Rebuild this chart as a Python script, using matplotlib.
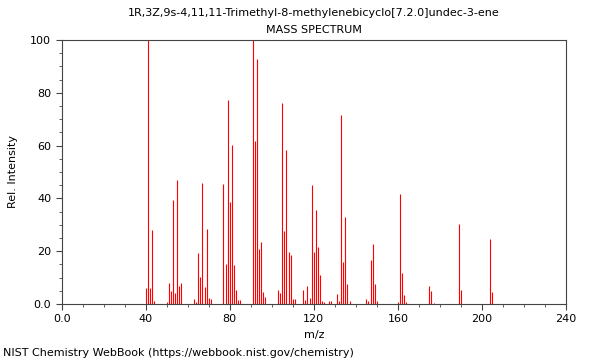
import matplotlib
matplotlib.use("Agg")
import matplotlib.pyplot as plt
from matplotlib.ticker import MultipleLocator, FuncFormatter

mz = [40, 41, 42, 43, 44,
      50, 51, 52, 53, 54, 55, 56, 57,
      63, 64, 65, 66, 67, 68, 69, 70, 71,
      77, 78, 79, 80, 81, 82, 83, 84, 85,
      91, 92, 93, 94, 95, 96, 97,
      103, 104, 105, 106, 107, 108, 109, 110, 111,
      115, 116, 117, 118, 119, 120, 121, 122, 123, 124, 125,
      127, 128, 131, 132, 133, 134, 135, 136, 137,
      145, 146, 147, 148, 149, 150,
      160, 161, 162, 163, 164,
      175, 176, 177,
      189, 190,
      204, 205]
intensity = [6.2, 100, 6.0, 28.0, 1.0,
             0.8, 7.8, 5.0, 39.4, 4.3, 46.8, 6.8, 7.8,
             1.8, 0.6, 19.2, 10.1, 45.7, 6.4, 28.3, 2.4, 1.8,
             45.3, 15.2, 77.3, 38.5, 60.1, 14.8, 5.3, 1.5, 1.5,
             100, 61.9, 92.9, 21.0, 23.5, 4.5, 2.6,
             5.2, 4.2, 76.3, 27.8, 58.3, 19.7, 18.4, 1.8, 1.8,
             5.3, 1.4, 6.9, 2.3, 45.1, 19.7, 35.6, 21.7, 11.0, 1.3, 0.8,
             1.3, 1.3, 3.9, 1.0, 71.6, 15.8, 32.8, 7.7, 1.3,
             2.0, 1.0, 16.5, 22.7, 7.7, 1.3,
             0.8, 41.5, 11.6, 3.4, 0.8,
             6.8, 4.8, 0.4,
             30.3, 5.2,
             24.5, 4.4]

title1 = "1R,3Z,9s-4,11,11-Trimethyl-8-methylenebicyclo[7.2.0]undec-3-ene"
title2 = "MASS SPECTRUM"
xlabel = "m/z"
ylabel = "Rel. Intensity"
footer = "NIST Chemistry WebBook (https://webbook.nist.gov/chemistry)"

plt.rcParams['font.family'] = ['DejaVu Sans']
fig = plt.figure(figsize=(6, 3.6), dpi=100)
ax = fig.add_axes([0.1027, 0.1556, 0.8406, 0.7333])

ax.vlines(mz, 0, intensity, colors='#ff0000', linewidth=0.8)

ax.set_xlim(0, 240)
ax.set_ylim(0, 100)
ax.xaxis.set_major_locator(MultipleLocator(40))
ax.xaxis.set_minor_locator(MultipleLocator(10))
ax.yaxis.set_major_locator(MultipleLocator(20))
ax.yaxis.set_minor_locator(MultipleLocator(5))
fmt = FuncFormatter(lambda v, p: "0.0" if v == 0 else f"{int(v)}")
ax.xaxis.set_major_formatter(fmt)
ax.yaxis.set_major_formatter(fmt)

for s in ax.spines.values():
    s.set_color('#444444')
    s.set_linewidth(0.8)
ax.tick_params(which='both', direction='out', colors='#444444', labelcolor='black', labelsize=8)
ax.tick_params(which='major', length=4)
ax.tick_params(which='minor', length=2.5)

ax.set_xlabel(xlabel, fontsize=8, labelpad=4)
ax.set_ylabel(ylabel, fontsize=8, labelpad=9)

cx = 0.1027 + 0.8406 / 2
fig.text(cx, 1 - 13 / 360, title1, ha='center', va='center', fontsize=8)
fig.text(cx, 1 - 30 / 360, title2, ha='center', va='center', fontsize=8)
fig.text(0.005, 1 - 353 / 360, footer, ha='left', va='center', fontsize=8)

fig.savefig("out.png", dpi=100)
